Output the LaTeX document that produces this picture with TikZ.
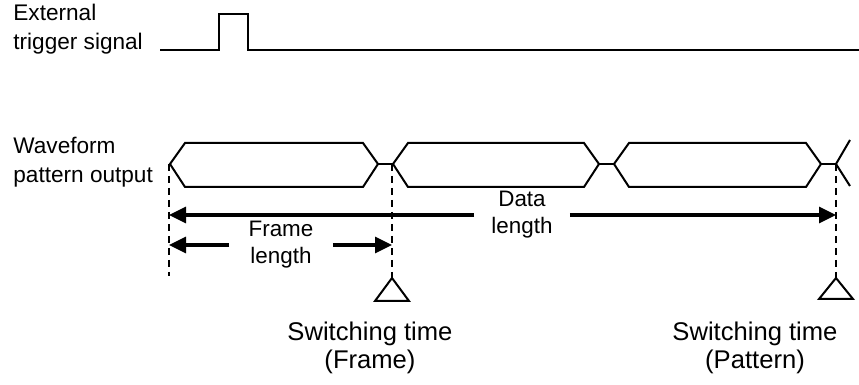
\documentclass[tikz,border=0pt]{standalone}
\usepackage{fontspec}
\setmainfont{Liberation Sans}
\usetikzlibrary{arrows.meta,positioning,calc}
\tikzset{sig/.style={line width=1pt,line join=miter},
  guide/.style={line width=1.1pt,dash pattern=on 3.5pt off 2.5pt},
  dimarr/.style={line width=1.6pt,-{Triangle[length=8.5pt,width=8pt]}},
  lbl/.style={font=\fontsize{11.3}{14.5}\selectfont,align=left,inner sep=0pt},
  dimlbl/.style={font=\fontsize{11.2}{13.5}\selectfont,align=center,inner ysep=0pt},
  caplbl/.style={font=\fontsize{12.8}{14}\selectfont,align=center,inner sep=0pt},
  trimark/.style={line width=1pt}}

\begin{document}
\begin{tikzpicture}[x=0.5pt,y=-0.5pt]
\useasboundingbox (0,0) rectangle (859,385);
% labels on the left
\node[lbl,anchor=north west] (trig) at (13,4) {External\\trigger signal};
\node[lbl,anchor=north west] (wave) at (13,137) {Waveform\\pattern output};
% trigger pulse
\draw[sig] (160,50) -- (219,50) -- (219,14) -- (248,14) -- (248,50) -- (859,50);
% waveform frames
\foreach \a/\b in {170/378,393/599,614/821}
  \draw[sig] (\a,164) -- (\a+15,143) -- (\b-15,143) -- (\b,164) -- (\b-15,187) -- (\a+15,187) -- cycle;
\draw[sig] (378,164) -- (393,164) (599,164) -- (614,164) (821,164) -- (836,164);
\draw[sig] (850,140) -- (836,164) -- (850,186);
% switching points
\coordinate (fs) at (169,164);
\coordinate (fe) at (392,164);
\coordinate (pe) at (836,164);
\draw[guide] (fs) -- ++(0,112);
\draw[guide] (fe) -- ++(0,114) coordinate (fetip);
\draw[guide] (pe) -- ++(0,114) coordinate (petip);
\draw[trimark] (fetip) -- ++(-17,23) -- ++(34,0) -- cycle;
\draw[trimark] (petip) -- ++(-17,21) -- ++(34,0) -- cycle;
% lengths
\node[dimlbl,inner xsep=8.5pt] (dlen) at (522,215) {Data\\length};
\draw[dimarr] (dlen.west) -- (fs |- dlen);
\draw[dimarr] (dlen.east) -- (pe |- dlen);
\node[dimlbl,inner xsep=9.5pt] (flen) at (281,245) {Frame\\length};
\draw[dimarr] (flen.west) -- (fs |- flen);
\draw[dimarr] (flen.east) -- (fe |- flen);
% switching captions
\node[caplbl,anchor=north] (swf) at (370,322) {Switching time\\(Frame)};
\node[caplbl,anchor=north] (swp) at (755,322) {Switching time\\(Pattern)};
\end{tikzpicture}
\end{document}
